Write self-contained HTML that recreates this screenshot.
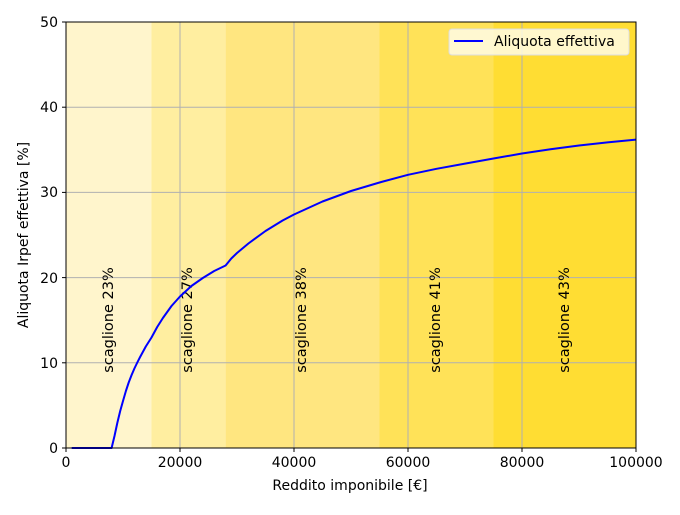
<!DOCTYPE html><html><head><style>body{margin:0;background:#fff}svg text{font-family:"DejaVu Sans","Liberation Sans",sans-serif}</style></head><body>
<svg width="680" height="510" xmlns="http://www.w3.org/2000/svg">
<rect x="66" y="22" width="85.5" height="426" fill="#fff5cc"/>
<rect x="151.5" y="22" width="74.1" height="426" fill="#ffeea0"/>
<rect x="225.6" y="22" width="153.9" height="426" fill="#ffe680"/>
<rect x="379.5" y="22" width="114" height="426" fill="#ffe258"/>
<rect x="493.5" y="22" width="142.5" height="426" fill="#ffdd33"/>
<g stroke="#b0b0b0" stroke-width="1">
<line x1="180" y1="22" x2="180" y2="448"/><line x1="294" y1="22" x2="294" y2="448"/><line x1="408" y1="22" x2="408" y2="448"/><line x1="522" y1="22" x2="522" y2="448"/>
<line x1="66" y1="362.8" x2="636" y2="362.8"/><line x1="66" y1="277.6" x2="636" y2="277.6"/><line x1="66" y1="192.4" x2="636" y2="192.4"/><line x1="66" y1="107.2" x2="636" y2="107.2"/>
</g>
<g font-size="14.5" fill="#000">
<text transform="translate(113,320) rotate(-90)" text-anchor="middle">scaglione 23%</text>
<text transform="translate(192,320) rotate(-90)" text-anchor="middle">scaglione 27%</text>
<text transform="translate(306,320) rotate(-90)" text-anchor="middle">scaglione 38%</text>
<text transform="translate(440,320) rotate(-90)" text-anchor="middle">scaglione 41%</text>
<text transform="translate(569,320) rotate(-90)" text-anchor="middle">scaglione 43%</text>
</g>
<polyline fill="none" stroke="#0000ff" stroke-width="2" stroke-linejoin="round" points="71.7,448 111.6,448 114.5,436 117.3,423 120.2,411 123,401 125.9,391 128.7,382.5 131.6,375 134.4,368.5 137.3,362.5 140.1,357 145.8,346.5 151.5,337.5 157.2,327 162.9,318 171.5,306 180,296.5 191.4,286 202.8,278 214.2,271 225.6,265.5 231.3,258.5 237,253 248.4,243.5 265.5,231 282.6,220.5 294,214.5 322.5,201.5 351,191 379.5,182.5 408,174.8 436.5,168.8 465,163.6 493.5,158.5 522,153.5 550.5,149.2 579,145.5 607.5,142.4 636,139.6"/>
<rect x="66" y="22" width="570" height="426" fill="none" stroke="#000" stroke-width="1"/>
<g stroke="#000"><line x1="66" y1="448" x2="66" y2="452"/><line x1="180" y1="448" x2="180" y2="452"/><line x1="294" y1="448" x2="294" y2="452"/><line x1="408" y1="448" x2="408" y2="452"/><line x1="522" y1="448" x2="522" y2="452"/><line x1="636" y1="448" x2="636" y2="452"/>
<line x1="62" y1="448" x2="66" y2="448"/><line x1="62" y1="362.8" x2="66" y2="362.8"/><line x1="62" y1="277.6" x2="66" y2="277.6"/><line x1="62" y1="192.4" x2="66" y2="192.4"/><line x1="62" y1="107.2" x2="66" y2="107.2"/><line x1="62" y1="22" x2="66" y2="22"/></g>
<g font-size="14" text-anchor="middle"><text x="66" y="467">0</text><text x="180" y="467">20000</text><text x="294" y="467">40000</text><text x="408" y="467">60000</text><text x="522" y="467">80000</text><text x="636" y="467">100000</text>
<text x="350" y="490">Reddito imponibile [€]</text></g>
<g font-size="14" text-anchor="end"><text x="58" y="453">0</text><text x="58" y="368">10</text><text x="58" y="283">20</text><text x="58" y="197">30</text><text x="58" y="112">40</text><text x="58" y="27">50</text></g>
<text transform="translate(28,235) rotate(-90)" font-size="14" text-anchor="middle">Aliquota Irpef effettiva [%]</text>
<rect x="449" y="29" width="180" height="26" rx="3" fill="#fffbe6" fill-opacity="0.85" stroke="#ddd"/>
<line x1="454" y1="41" x2="483" y2="41" stroke="#0000ff" stroke-width="2"/>
<text x="494" y="46" font-size="14">Aliquota effettiva</text>
</svg></body></html>
